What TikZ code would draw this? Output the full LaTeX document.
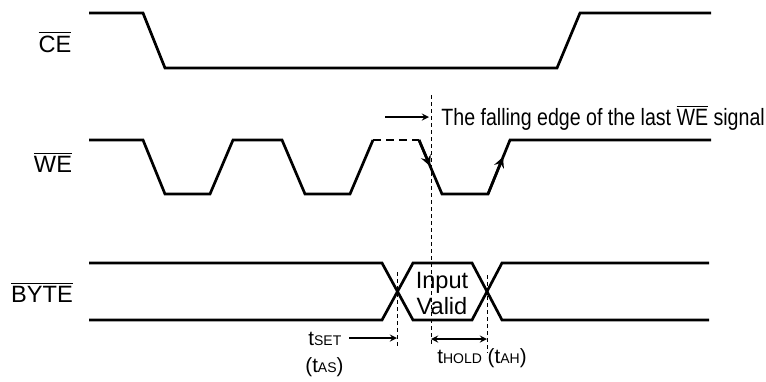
\documentclass[tikz,border=0pt]{standalone}
\usepackage{fontspec}
\setmainfont{Liberation Sans}
\usepackage{graphicx}
\usetikzlibrary{arrows,positioning}
\tikzstyle{wave} = [line width=1.35pt, line join=miter]
\tikzstyle{guide} = [line width=0.5pt, dash pattern=on 2pt off 1.5pt]
\tikzstyle{arrow} = [line width=0.6pt,->,>=stealth]
\tikzstyle{sig} = [font=\fontsize{11.8}{13}\selectfont, anchor=base, inner sep=0pt]
\tikzstyle{timing} = [font=\fontsize{10.3}{12}\selectfont, anchor=base west, inner sep=0pt]
\newcommand{\lowlbl}[1]{{\fontsize{7}{8}\selectfont #1}}

\begin{document}
\begin{tikzpicture}[x=0.5pt, y=-0.5pt]
\useasboundingbox (0,0) rectangle (766,381);

% Signal names
\node[sig] (ce) at (55,52) {$\overline{\mbox{CE}}$};
\node[sig] (we) at (53,172) {$\overline{\mbox{WE}}$};
\node[sig] (byte) at (42,302) {$\overline{\mbox{BYTE}}$};

% CE
\draw[wave] (89,13) -- (143,13) -- (165,68) -- (557,68) -- (580,13) -- (711,13);

% WE
\draw[wave] (89,140) -- (143,140) -- (165,194) -- (210,194) -- (233,140) -- (282,140) -- (305,194) -- (350,194) -- (373,140);
\draw[wave, dash pattern=on 4pt off 2.5pt] (373,140) -- (419,140);
\draw[wave] (419,140) -- (442,194) -- (488,194) -- (510,140) -- (711,140);
\coordinate (fallA) at (419,140);
\coordinate (fallB) at (430,166);
\coordinate (riseA) at (488,194);
\coordinate (riseB) at (503,157);
\draw[arrow, line width=1.3pt] (fallA) -- (fallB);
\draw[arrow, line width=1.3pt] (riseA) -- (riseB);

% BYTE
\draw[wave] (89,263) -- (382,263) -- (413,320) -- (472,320) -- (502,263) -- (709,263);
\draw[wave] (89,320) -- (382,320) -- (413,263) -- (472,263) -- (502,320) -- (709,320);
\node[sig] (input) at (442,288) {Input};
\node[sig] (valid) at (442,314) {Valid};

% Guides
\coordinate (lastA) at (431,95);
\coordinate (lastB) at (431,345);
\coordinate (setA) at (397,272);
\coordinate (setB) at (397,348);
\coordinate (holdA) at (487,275);
\coordinate (holdB) at (487,353);
\draw[guide] (lastA) -- (lastB);
\draw[guide] (setA) -- (setB);
\draw[guide] (holdA) -- (holdB);

% Annotations
\node[sig, anchor=base west] (fall) at (441,125) {\scalebox{0.83}[1]{The falling edge of the last $\overline{\mbox{WE}}$ signal}};
\coordinate (fallfrom) at (385,117);
\coordinate (fallto) at (429,117);
\draw[arrow] (fallfrom) -- (fallto);

\node[timing] (tset) at (308,345) {t\lowlbl{SET}};
\node[timing] (tas) at (305,372) {(t\lowlbl{AS})};
\coordinate (setfrom) at (349,338);
\coordinate (setto) at (397,338);
\draw[arrow] (setfrom) -- (setto);

\node[timing] (thold) at (437,363) {t\lowlbl{HOLD} (t\lowlbl{AH})};
\coordinate (holdfrom) at (431,339);
\coordinate (holdto) at (487,339);
\draw[arrow, <->] (holdfrom) -- (holdto);
\end{tikzpicture}
\end{document}
